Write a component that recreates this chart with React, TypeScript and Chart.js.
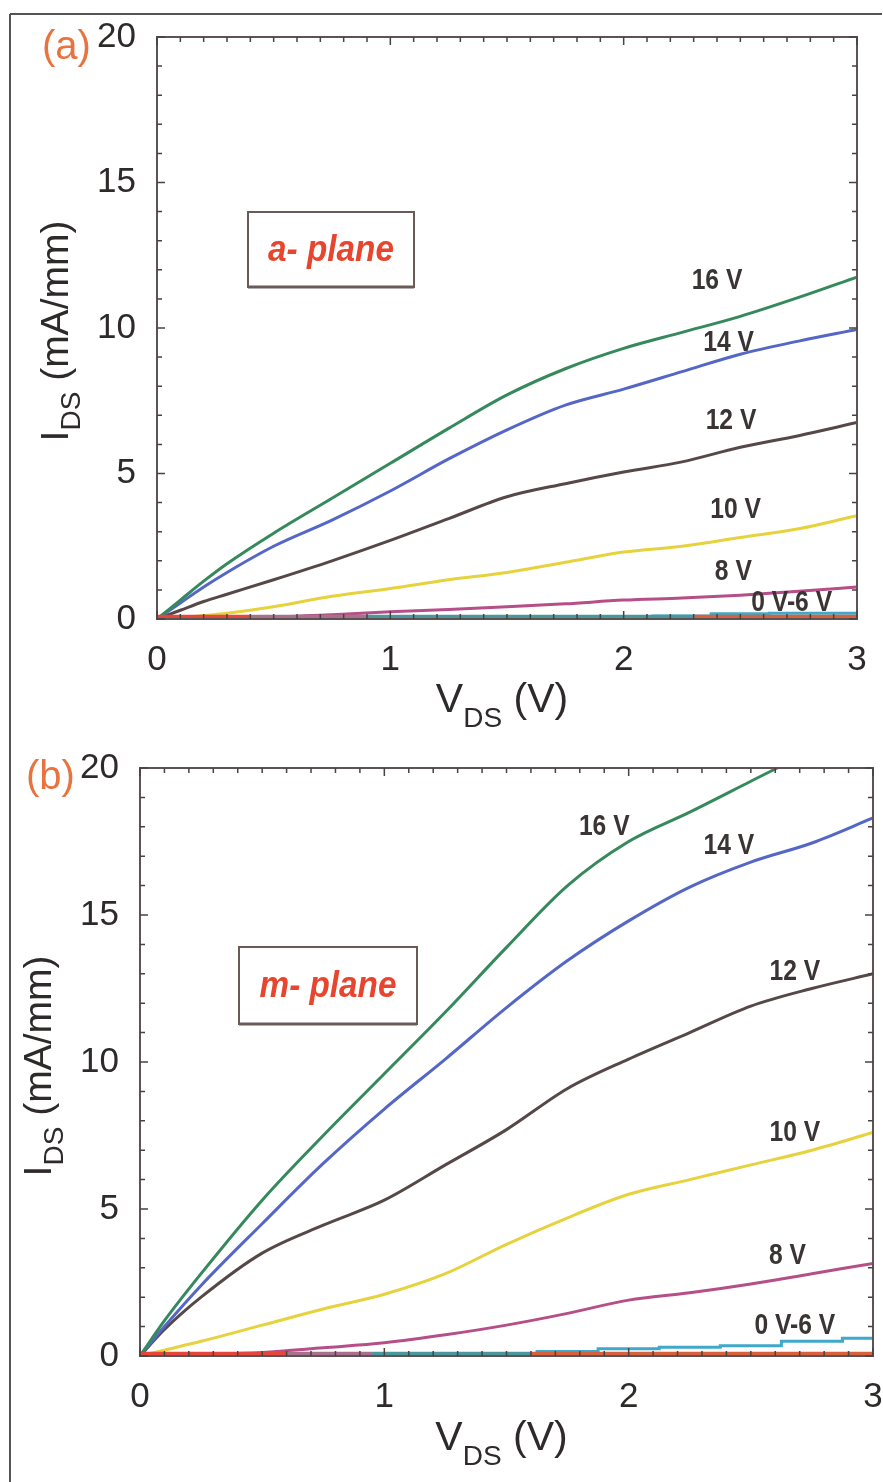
import React, { useEffect, useRef } from 'react';
import { Chart, registerables } from 'chart.js';

Chart.register(...registerables);

// ---------- DATA ----------
// Panel (a): a-plane
const VDS_A = [0, 0.1, 0.2, 0.3, 0.5, 0.75, 1.0, 1.25, 1.5, 1.75, 2.0, 2.25, 2.5, 2.75, 3.0];
const A_16V = [0, 0.65, 1.3, 1.9, 2.95, 4.15, 5.35, 6.55, 7.7, 8.6, 9.3, 9.85, 10.4, 11.05, 11.75];
const A_14V = [0, 0.55, 1.1, 1.6, 2.5, 3.4, 4.4, 5.5, 6.5, 7.35, 7.9, 8.5, 9.1, 9.55, 9.95];
const A_12V = [0, 0.3, 0.6, 0.85, 1.35, 2.0, 2.7, 3.45, 4.2, 4.65, 5.05, 5.4, 5.9, 6.3, 6.75];
const A_10V = [0, 0.05, 0.12, 0.2, 0.42, 0.78, 1.05, 1.35, 1.6, 1.95, 2.3, 2.5, 2.8, 3.1, 3.55];
const A_8V = [0, 0.02, 0.03, 0.04, 0.07, 0.15, 0.25, 0.33, 0.42, 0.52, 0.65, 0.72, 0.82, 0.95, 1.1];
const A_6V = [0, 0, 0, 0, 0, 0.02, 0.05, 0.06, 0.07, 0.08, 0.09, 0.1, 0.18, 0.2, 0.2];
const A_0V_X = [0, 0.4, 0.9, 2.3, 3.0];
const A_0V = [0.08, 0.08, 0.08, 0.08, 0.08];

// Panel (b): m-plane
const VDS_B = [0, 0.1, 0.25, 0.5, 0.75, 1.0, 1.25, 1.5, 1.75, 2.0, 2.25, 2.5, 2.75, 3.0];
const B_16V = [0, 1.2, 2.8, 5.3, 7.5, 9.6, 11.7, 13.9, 16.0, 17.5, 18.5, 19.55, 20.6, 21.7];
const B_14V = [0, 1.0, 2.4, 4.5, 6.55, 8.4, 10.1, 11.85, 13.45, 14.8, 15.95, 16.8, 17.45, 18.3];
const B_12V = [0, 0.9, 2.0, 3.5, 4.45, 5.3, 6.5, 7.7, 9.1, 10.1, 11.0, 11.9, 12.5, 13.0];
const B_10V = [0, 0.2, 0.5, 1.05, 1.6, 2.1, 2.8, 3.8, 4.7, 5.5, 6.0, 6.5, 7.0, 7.6];
const B_8V = [0, 0.02, 0.05, 0.12, 0.28, 0.45, 0.72, 1.05, 1.45, 1.9, 2.15, 2.45, 2.8, 3.15];
const B_6V = [0, 0, 0, 0, 0, 0.03, 0.05, 0.05, 0.15, 0.25, 0.3, 0.35, 0.5, 0.6];
const B_0V_X = [0, 0.6, 0.95, 1.6, 3.0];
const B_0V = [0.08, 0.08, 0.08, 0.08, 0.08];

const X_TICKS = [0, 1, 2, 3];
const Y_TICKS = [0, 5, 10, 15, 20];
const CURVE_LABELS = ['16 V', '14 V', '12 V', '10 V', '8 V', '0 V-6 V'];
// label anchors in data coordinates (VDS, IDS)
const LABEL_AT_A = [[2.40, 11.6], [2.45, 9.5], [2.46, 6.8], [2.48, 3.75], [2.47, 1.62], [2.72, 0.55]];
const LABEL_AT_B = [[1.90, 18.0], [2.41, 17.35], [2.68, 13.05], [2.68, 7.6], [2.65, 3.4], [2.68, 1.02]];

// ---------- STYLE ----------
const FONT = '"Liberation Sans", Arial, Helvetica, sans-serif';
const COLORS = {
  v16: '#35895C',
  v14: '#5467C6',
  v12: '#574848',
  v10: '#E6D23C',
  v8: '#B64F88',
  v6: '#40A9C9',
};
const BASE_SEG_COLORS = ['#E8453A', '#A8708C', '#4A979E', '#D8603C'];

type Panel = {
  top: number;
  height: number;
  area: { left: number; right: number; top: number; bottom: number };
  letter: string;
  letterX: number;
  letterY: number;
  plane: string;
  box: { x: number; y: number; w: number; h: number };
  xTitleBase: number;
  yTitleX: number;
  yTitleCenter: number;
  labels: number[][];
  vds: number[];
  series: number[][];
  baseX: number[];
  baseY: number[];
  frameTop: boolean;
};

const W = 883;
const Y_W = 100;
const X_H = 60;

const PANELS: Panel[] = [
  {
    top: 0,
    height: 735,
    area: { left: 157, right: 857, top: 37, bottom: 619 },
    letter: '(a)',
    letterX: 42,
    letterY: 48,
    plane: 'a- plane',
    box: { x: 248, y: 212, w: 166, h: 75 },
    xTitleBase: 712,
    yTitleX: 68,
    yTitleCenter: 331,
    labels: LABEL_AT_A,
    vds: VDS_A,
    series: [A_16V, A_14V, A_12V, A_10V, A_8V, A_6V],
    baseX: A_0V_X,
    baseY: A_0V,
    frameTop: true,
  },
  {
    top: 735,
    height: 747,
    area: { left: 140, right: 873, top: 33, bottom: 621 },
    letter: '(b)',
    letterX: 26,
    letterY: 43,
    plane: 'm- plane',
    box: { x: 239, y: 212, w: 178, h: 77 },
    xTitleBase: 715,
    yTitleX: 51,
    yTitleCenter: 331,
    labels: LABEL_AT_B,
    vds: VDS_B,
    series: [B_16V, B_14V, B_12V, B_10V, B_8V, B_6V],
    baseX: B_0V_X,
    baseY: B_0V,
    frameTop: false,
  },
];

function drawSubText(
  ctx: CanvasRenderingContext2D,
  parts: { t: string; size: number; dy: number }[],
  cx: number,
  baseY: number
) {
  let total = 0;
  const widths = parts.map((p) => {
    ctx.font = `${p.size}px ${FONT}`;
    const w = ctx.measureText(p.t).width;
    total += w;
    return w;
  });
  let x = cx - total / 2;
  ctx.textAlign = 'left';
  ctx.textBaseline = 'alphabetic';
  parts.forEach((p, i) => {
    ctx.font = `${p.size}px ${FONT}`;
    ctx.fillText(p.t, x, baseY + p.dy);
    x += widths[i];
  });
}

function makeDecor(panel: Panel) {
  return {
    id: 'decor',
    afterDraw(chart: any) {
      const ctx: CanvasRenderingContext2D = chart.ctx;
      const a = chart.chartArea;
      const xs = chart.scales.x;
      const ys = chart.scales.y;
      ctx.save();

      // outer figure frame
      ctx.strokeStyle = '#555';
      ctx.lineWidth = 2;
      ctx.beginPath();
      if (panel.frameTop) {
        ctx.moveTo(10, 14);
        ctx.lineTo(W - 1, 14);
        ctx.moveTo(10, 14);
      } else {
        ctx.moveTo(10, 0);
      }
      ctx.lineTo(10, panel.height);
      ctx.stroke();

      // plot frame
      ctx.strokeStyle = '#5E5252';
      ctx.lineWidth = 2;
      ctx.strokeRect(a.left, a.top, a.right - a.left, a.bottom - a.top);

      // inward ticks, all four sides
      ctx.strokeStyle = '#444';
      ctx.lineWidth = 1.5;
      ctx.beginPath();
      for (let i = 0; i <= 30; i++) {
        const v = i / 10;
        const px = xs.getPixelForValue(v);
        const len = i % 10 === 0 ? 8 : 5;
        ctx.moveTo(px, a.bottom);
        ctx.lineTo(px, a.bottom - len);
        ctx.moveTo(px, a.top);
        ctx.lineTo(px, a.top + len);
      }
      for (let i = 0; i <= 20; i++) {
        const py = ys.getPixelForValue(i);
        const len = i % 5 === 0 ? 8 : 5;
        ctx.moveTo(a.left, py);
        ctx.lineTo(a.left + len, py);
        ctx.moveTo(a.right, py);
        ctx.lineTo(a.right - len, py);
      }
      ctx.stroke();

      // curve labels
      ctx.fillStyle = '#3A3434';
      ctx.font = `bold 29px ${FONT}`;
      ctx.textAlign = 'center';
      ctx.textBaseline = 'middle';
      CURVE_LABELS.forEach((t, i) => {
        const [vx, vy] = panel.labels[i];
        ctx.save();
        ctx.translate(xs.getPixelForValue(vx), ys.getPixelForValue(vy));
        ctx.scale(0.85, 1);
        ctx.fillText(t, 0, 0);
        ctx.restore();
      });

      // plane box
      const b = panel.box;
      ctx.fillStyle = '#fff';
      ctx.fillRect(b.x, b.y, b.w, b.h);
      ctx.strokeStyle = '#6A5A58';
      ctx.lineWidth = 2;
      ctx.strokeRect(b.x, b.y, b.w, b.h);
      ctx.lineWidth = 3;
      ctx.beginPath();
      ctx.moveTo(b.x, b.y + b.h);
      ctx.lineTo(b.x + b.w, b.y + b.h);
      ctx.stroke();
      ctx.fillStyle = '#E8452F';
      ctx.font = `italic bold 37px ${FONT}`;
      ctx.save();
      ctx.translate(b.x + b.w / 2, b.y + b.h / 2 + 1);
      ctx.scale(0.9, 1);
      ctx.textAlign = 'center';
      ctx.textBaseline = 'middle';
      ctx.fillText(panel.plane, 0, 0);
      ctx.restore();

      // panel letter
      ctx.fillStyle = '#E8733F';
      ctx.font = `40px ${FONT}`;
      ctx.textAlign = 'left';
      ctx.textBaseline = 'middle';
      ctx.fillText(panel.letter, panel.letterX, panel.letterY);

      // axis titles
      ctx.fillStyle = '#2E2A2A';
      drawSubText(
        ctx,
        [
          { t: 'V', size: 41, dy: 0 },
          { t: 'DS', size: 28, dy: 15 },
          { t: ' (V)', size: 41, dy: 0 },
        ],
        (a.left + a.right) / 2 - 5,
        panel.xTitleBase
      );
      ctx.save();
      ctx.translate(panel.yTitleX, panel.yTitleCenter);
      ctx.rotate(-Math.PI / 2);
      drawSubText(
        ctx,
        [
          { t: 'I', size: 39, dy: 0 },
          { t: 'DS', size: 28, dy: 12 },
          { t: ' (mA/mm)', size: 39, dy: 0 },
        ],
        0,
        0
      );
      ctx.restore();

      ctx.restore();
    },
  };
}

function PanelChart({ panel }: { panel: Panel }) {
  const ref = useRef<HTMLCanvasElement | null>(null);
  useEffect(() => {
    if (!ref.current) return;
    const names = ['16 V', '14 V', '12 V', '10 V', '8 V', '6 V'];
    const cols = [COLORS.v16, COLORS.v14, COLORS.v12, COLORS.v10, COLORS.v8, COLORS.v6];
    const datasets: any[] = panel.series.map((vals, i) => ({
      label: names[i],
      data: vals.map((y, j) => ({ x: panel.vds[j], y })),
      borderColor: cols[i],
      borderWidth: 3,
      pointRadius: 0,
      cubicInterpolationMode: 'monotone',
      stepped: i === 5 ? 'middle' : false,
      fill: false,
    }));
    const bx = panel.baseX;
    datasets.push({
      label: '0 V',
      order: -1,
      data: panel.baseY.map((y, j) => ({ x: bx[j], y })),
      borderColor: BASE_SEG_COLORS[0],
      borderWidth: 4,
      pointRadius: 0,
      fill: false,
      segment: {
        borderColor: (c: any) => BASE_SEG_COLORS[Math.min(c.p0DataIndex, BASE_SEG_COLORS.length - 1)],
      },
    });
    const a = panel.area;
    const chart = new Chart(ref.current, {
      type: 'line',
      data: { datasets },
      options: {
        responsive: false,
        maintainAspectRatio: false,
        animation: false,
        layout: {
          padding: {
            left: a.left - Y_W,
            right: W - a.right,
            top: a.top,
            bottom: panel.height - a.bottom - X_H,
          },
        },
        plugins: { legend: { display: false }, tooltip: { enabled: false } },
        scales: {
          x: {
            type: 'linear',
            min: 0,
            max: 3,
            grid: { display: false },
            border: { display: false },
            afterBuildTicks: (s: any) => {
              s.ticks = X_TICKS.map((v) => ({ value: v }));
            },
            ticks: {
              padding: 12,
              color: '#2E2A2A',
              font: { family: FONT, size: 35 },
              maxRotation: 0,
            },
            afterFit: (s: any) => {
              s.height = X_H;
              s.paddingLeft = 0;
              s.paddingRight = 0;
            },
          },
          y: {
            type: 'linear',
            min: 0,
            max: 20,
            grid: { display: false },
            border: { display: false },
            afterBuildTicks: (s: any) => {
              s.ticks = Y_TICKS.map((v) => ({ value: v }));
            },
            ticks: {
              padding: 13,
              color: '#2E2A2A',
              font: { family: FONT, size: 35 },
            },
            afterFit: (s: any) => {
              s.width = Y_W;
              s.paddingTop = 0;
              s.paddingBottom = 0;
            },
          },
        },
      },
      plugins: [makeDecor(panel)],
    });
    return () => chart.destroy();
  }, [panel]);
  return (
    <canvas
      ref={ref}
      width={W}
      height={panel.height}
      style={{ position: 'absolute', left: 0, top: panel.top, width: W, height: panel.height }}
    />
  );
}

export default function App() {
  return (
    <div style={{ position: 'absolute', left: 0, top: 0, width: W, height: 1482, background: '#fff' }}>
      {PANELS.map((p, i) => (
        <PanelChart key={i} panel={p} />
      ))}
    </div>
  );
}
